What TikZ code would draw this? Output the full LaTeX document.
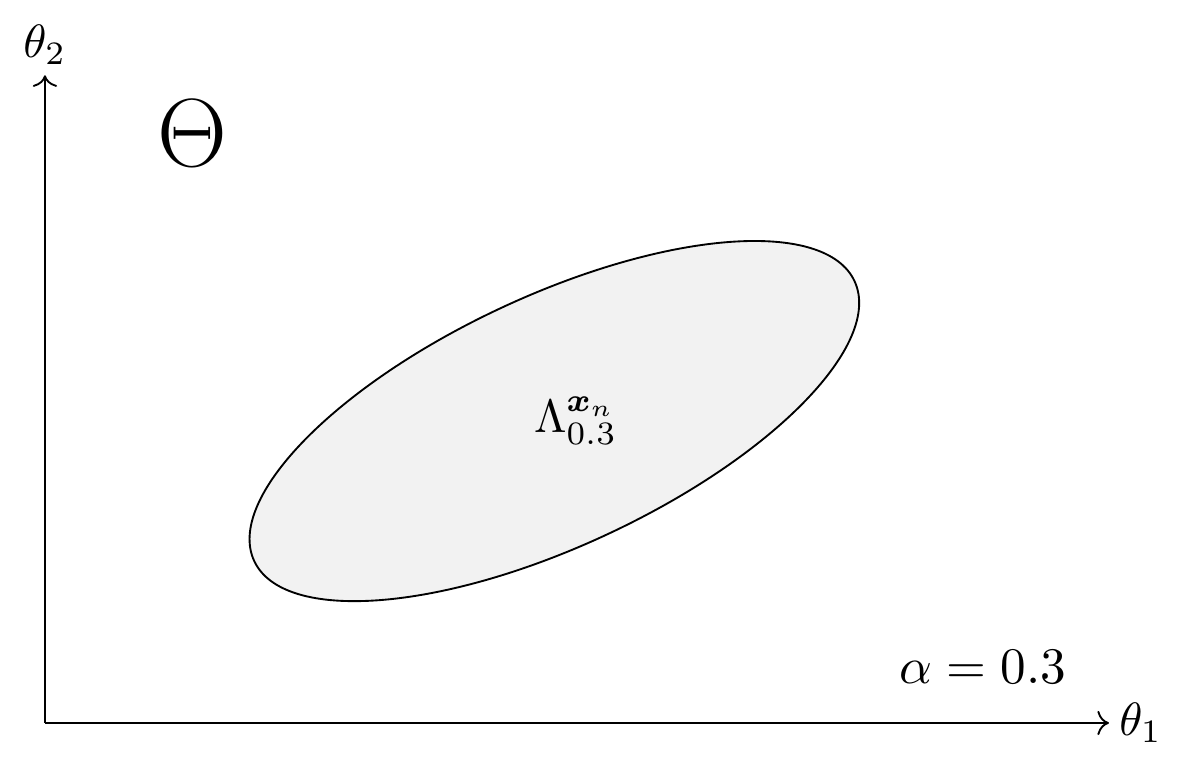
\documentclass[tikz,border=0pt]{standalone}
\usepackage{tikz}
\usetikzlibrary{arrows.meta, positioning, calc}
\usepackage{amsmath}
\usepackage{amssymb}
\usepackage{bm}

\begin{document}
\begin{tikzpicture}[
  axis/.style={thin, ->},
  region/.style={draw, fill=gray!10},
  label/.style={font=\normalsize, inner sep=2pt}
]
\useasboundingbox (-0.338,-0.338) rectangle (8.579,5.436);

% Axes
\coordinate (origin) at (0,0);
\coordinate (xend) at (8,0);
\coordinate (yend) at (0,4.87);
\draw[axis] (origin) -- (xend);
\draw[axis] (origin) -- (yend);
\node[label, right] (theta1) at (xend) {$\theta_1$};
\node[label, above] (theta2) at (yend) {$\theta_2$};

% Parameter space
\node[font=\fontsize{22.5}{27}\selectfont] (space) at (1.11,4.43) {$\Theta$};

% Confidence region
\coordinate (centre) at (3.83,2.27);
\draw[region, rotate around={25:(centre)}] (centre) ellipse (2.49 and 0.94);
\node[label] (lambda) at (3.99,2.27) {$\Lambda^{\bm{x}_n}_{0.3}$};

% Level
\node[label, font=\fontsize{10.5}{12.6}\selectfont] (level) at (7.05,0.42) {$\alpha = 0.3$};

\end{tikzpicture}
\end{document}
